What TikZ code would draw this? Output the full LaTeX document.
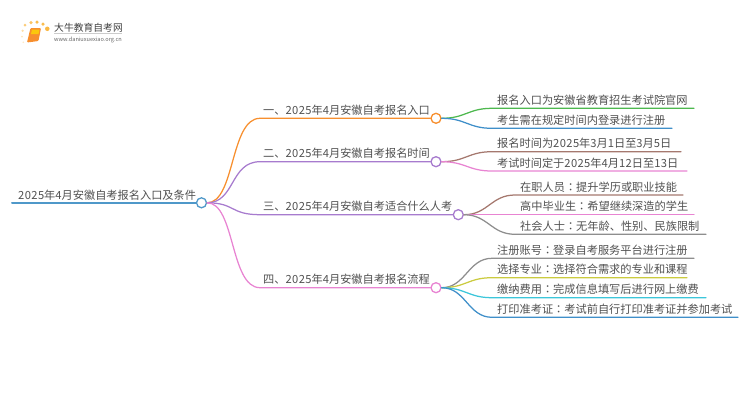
\documentclass[tikz,border=0pt]{standalone}
\usepackage{fontspec}
\setmainfont{Noto Sans CJK SC}
\newfontfamily\tcface{Noto Sans CJK TC}
\newfontfamily\dgface[LetterSpace=3.5]{Noto Sans CJK SC}
\newcommand{\dg}[1]{{\dgface #1}}
\newcommand{\cln}{{\tcface ：}}
\definecolor{cRoot}{HTML}{4F98C9}
\definecolor{cOrange}{HTML}{F78F2E}
\definecolor{cPurple}{HTML}{A77BCE}
\definecolor{cPink}{HTML}{E884D2}
\definecolor{cGreen}{HTML}{4DB84E}
\definecolor{cBlue}{HTML}{3F8FC9}
\definecolor{cBrown}{HTML}{A5786E}
\definecolor{cGrey}{HTML}{8E8E8E}
\definecolor{cYellow}{HTML}{CBCB3F}
\definecolor{cCyan}{HTML}{3CC6DA}
\definecolor{cText}{HTML}{505050}
\tikzset{
  lbl/.style={anchor=base west,inner sep=0pt,text=cText,font=\fontsize{11.2}{13}\selectfont},
  hub/.style={circle,draw=#1,fill=white,line width=1.3pt,minimum size=10pt,inner sep=0pt},
  wire/.style={draw=#1,line width=1.25pt,line cap=round},
  dot/.style={circle,fill=#1,inner sep=0pt,draw=none}
}
\begin{document}
\begin{tikzpicture}[x=1pt,y=-1pt]
\useasboundingbox (0,0) rectangle (750,410);
% logo
\foreach \n/\px/\py/\s/\o in {a/25/25/3/.6,b/22.6/30.7/2.5/.4,c/31/22.6/3.5/.7,d/37/22/3.5/.8,e/43/24/3.5/.8,f/47.3/28.8/4.5/.85,h/22/36.7/2/.3,i/23.3/42.3/1.8/.25}
  \node[dot={cOrange!75!yellow},minimum size=\s pt,opacity=\o] (logo\n) at (\px,\py) {};
\path[fill=cOrange,rounded corners=1pt] (30.5,28) -- (41,28) -- (38.5,41) -- (27,42.5) -- cycle;
\path[fill=yellow!75!orange,opacity=.8] (32,29.5) -- (39.5,29.5) -- (38.5,34) -- (31,34) -- cycle;
\node[anchor=base west,inner sep=0pt,text=black!75,font=\fontsize{9.8}{11}\selectfont] (brand) at (54,31) {大牛教育自考网};
\draw[black!20,line width=.5pt] (54,33.5) -- (122,33.5);
\node[anchor=base west,inner sep=0pt,text=black!60,font=\fontsize{5.6}{7}\selectfont] (site) at (54,41) {www.daniuxuexiao.org.cn};
% hubs
\node[hub=cRoot] (root) at (201.5,202.8) {};
\node[hub=cOrange] (h1) at (436,118.3) {};
\node[hub=cPurple] (h2) at (436,161.7) {};
\node[hub=cPurple] (h3) at (458.3,214.7) {};
\node[hub=cPink] (h4) at (436,287.7) {};
% labels
\node[lbl] (troot) at (18,199) {\dg{2025}年\dg{4}月安徽自考报名入口及条件};
\node[lbl] (t1) at (263,114.3) {一、\dg{2025}年\dg{4}月安徽自考报名入口};
\node[lbl] (t2) at (263,157.7) {二、\dg{2025}年\dg{4}月安徽自考报名时间};
\node[lbl] (t3) at (263,210.7) {三、\dg{2025}年\dg{4}月安徽自考适合什么人考};
\node[lbl] (t4) at (263,283.7) {四、\dg{2025}年\dg{4}月安徽自考报名流程};
\node[lbl] (l11) at (497,104.3) {报名入口为安徽省教育招生考试院官网};
\node[lbl] (l12) at (497,124.3) {考生需在规定时间内登录进行注册};
\node[lbl] (l21) at (497,147.7) {报名时间为\dg{2025}年\dg{3}月\dg{1}日至\dg{3}月\dg{5}日};
\node[lbl] (l22) at (497,167) {考试时间定于\dg{2025}年\dg{4}月\dg{12}日至\dg{13}日};
\node[lbl] (l31) at (520,191) {在职人员\cln 提升学历或职业技能};
\node[lbl] (l32) at (520,210.7) {高中毕业生\cln 希望继续深造的学生};
\node[lbl] (l33) at (520,230.3) {社会人士\cln 无年龄、性别、民族限制};
\node[lbl] (l41) at (497,254.3) {注册账号\cln 登录自考服务平台进行注册};
\node[lbl] (l42) at (497,273.7) {选择专业\cln 选择符合需求的专业和课程};
\node[lbl] (l43) at (497,293.7) {缴纳费用\cln 完成信息填写后进行网上缴费};
\node[lbl] (l44) at (497,313.3) {打印准考证\cln 考试前自行打印准考证并参加考试};
% free ends
\coordinate (e0) at (12,202.8);
\foreach \n/\px/\py in {k1/260/118.3,k2/260/161.7,k3/260/214.7,k4/260/287.7,
  k11/492/108.3,e11/694/108.3,k12/492/128.3,e12/672/128.3,
  k21/492/151.7,e21/681/151.7,k22/492/171,e22/687/171,
  k31/515/195,e31/683/195,k32/515/214.7,e32/694/214.7,k33/515/234.3,e33/706/234.3,
  k41/492/258.3,e41/694/258.3,k42/492/277.7,e42/687/277.7,k43/492/297.7,e43/706/297.7,k44/492/317.3,e44/738/317.3}
  \coordinate (\n) at (\px,\py);
% connectors
\draw[wire=cRoot,line width=2pt] (e0) -- (root);
\foreach \h/\k/\c in {h1/k1/cOrange,h2/k2/cPurple,h3/k3/cPurple,h4/k4/cPink}
  \draw[wire=\c] (root.east) .. controls +(28,0) and +(-30,0) .. (\k) -- (\h.west);
\foreach \h/\k/\e/\c in {h1/k11/e11/cGreen,h1/k12/e12/cBlue,h2/k21/e21/cBrown,h2/k22/e22/cPink,
  h3/k31/e31/cBrown,h3/k32/e32/cPink,h3/k33/e33/cGrey,
  h4/k41/e41/cGrey,h4/k42/e42/cYellow,h4/k43/e43/cCyan,h4/k44/e44/cBlue}
  \draw[wire=\c] (\h.east) .. controls +(24,0) and +(-24,0) .. (\k) -- (\e);
\end{tikzpicture}
\end{document}
